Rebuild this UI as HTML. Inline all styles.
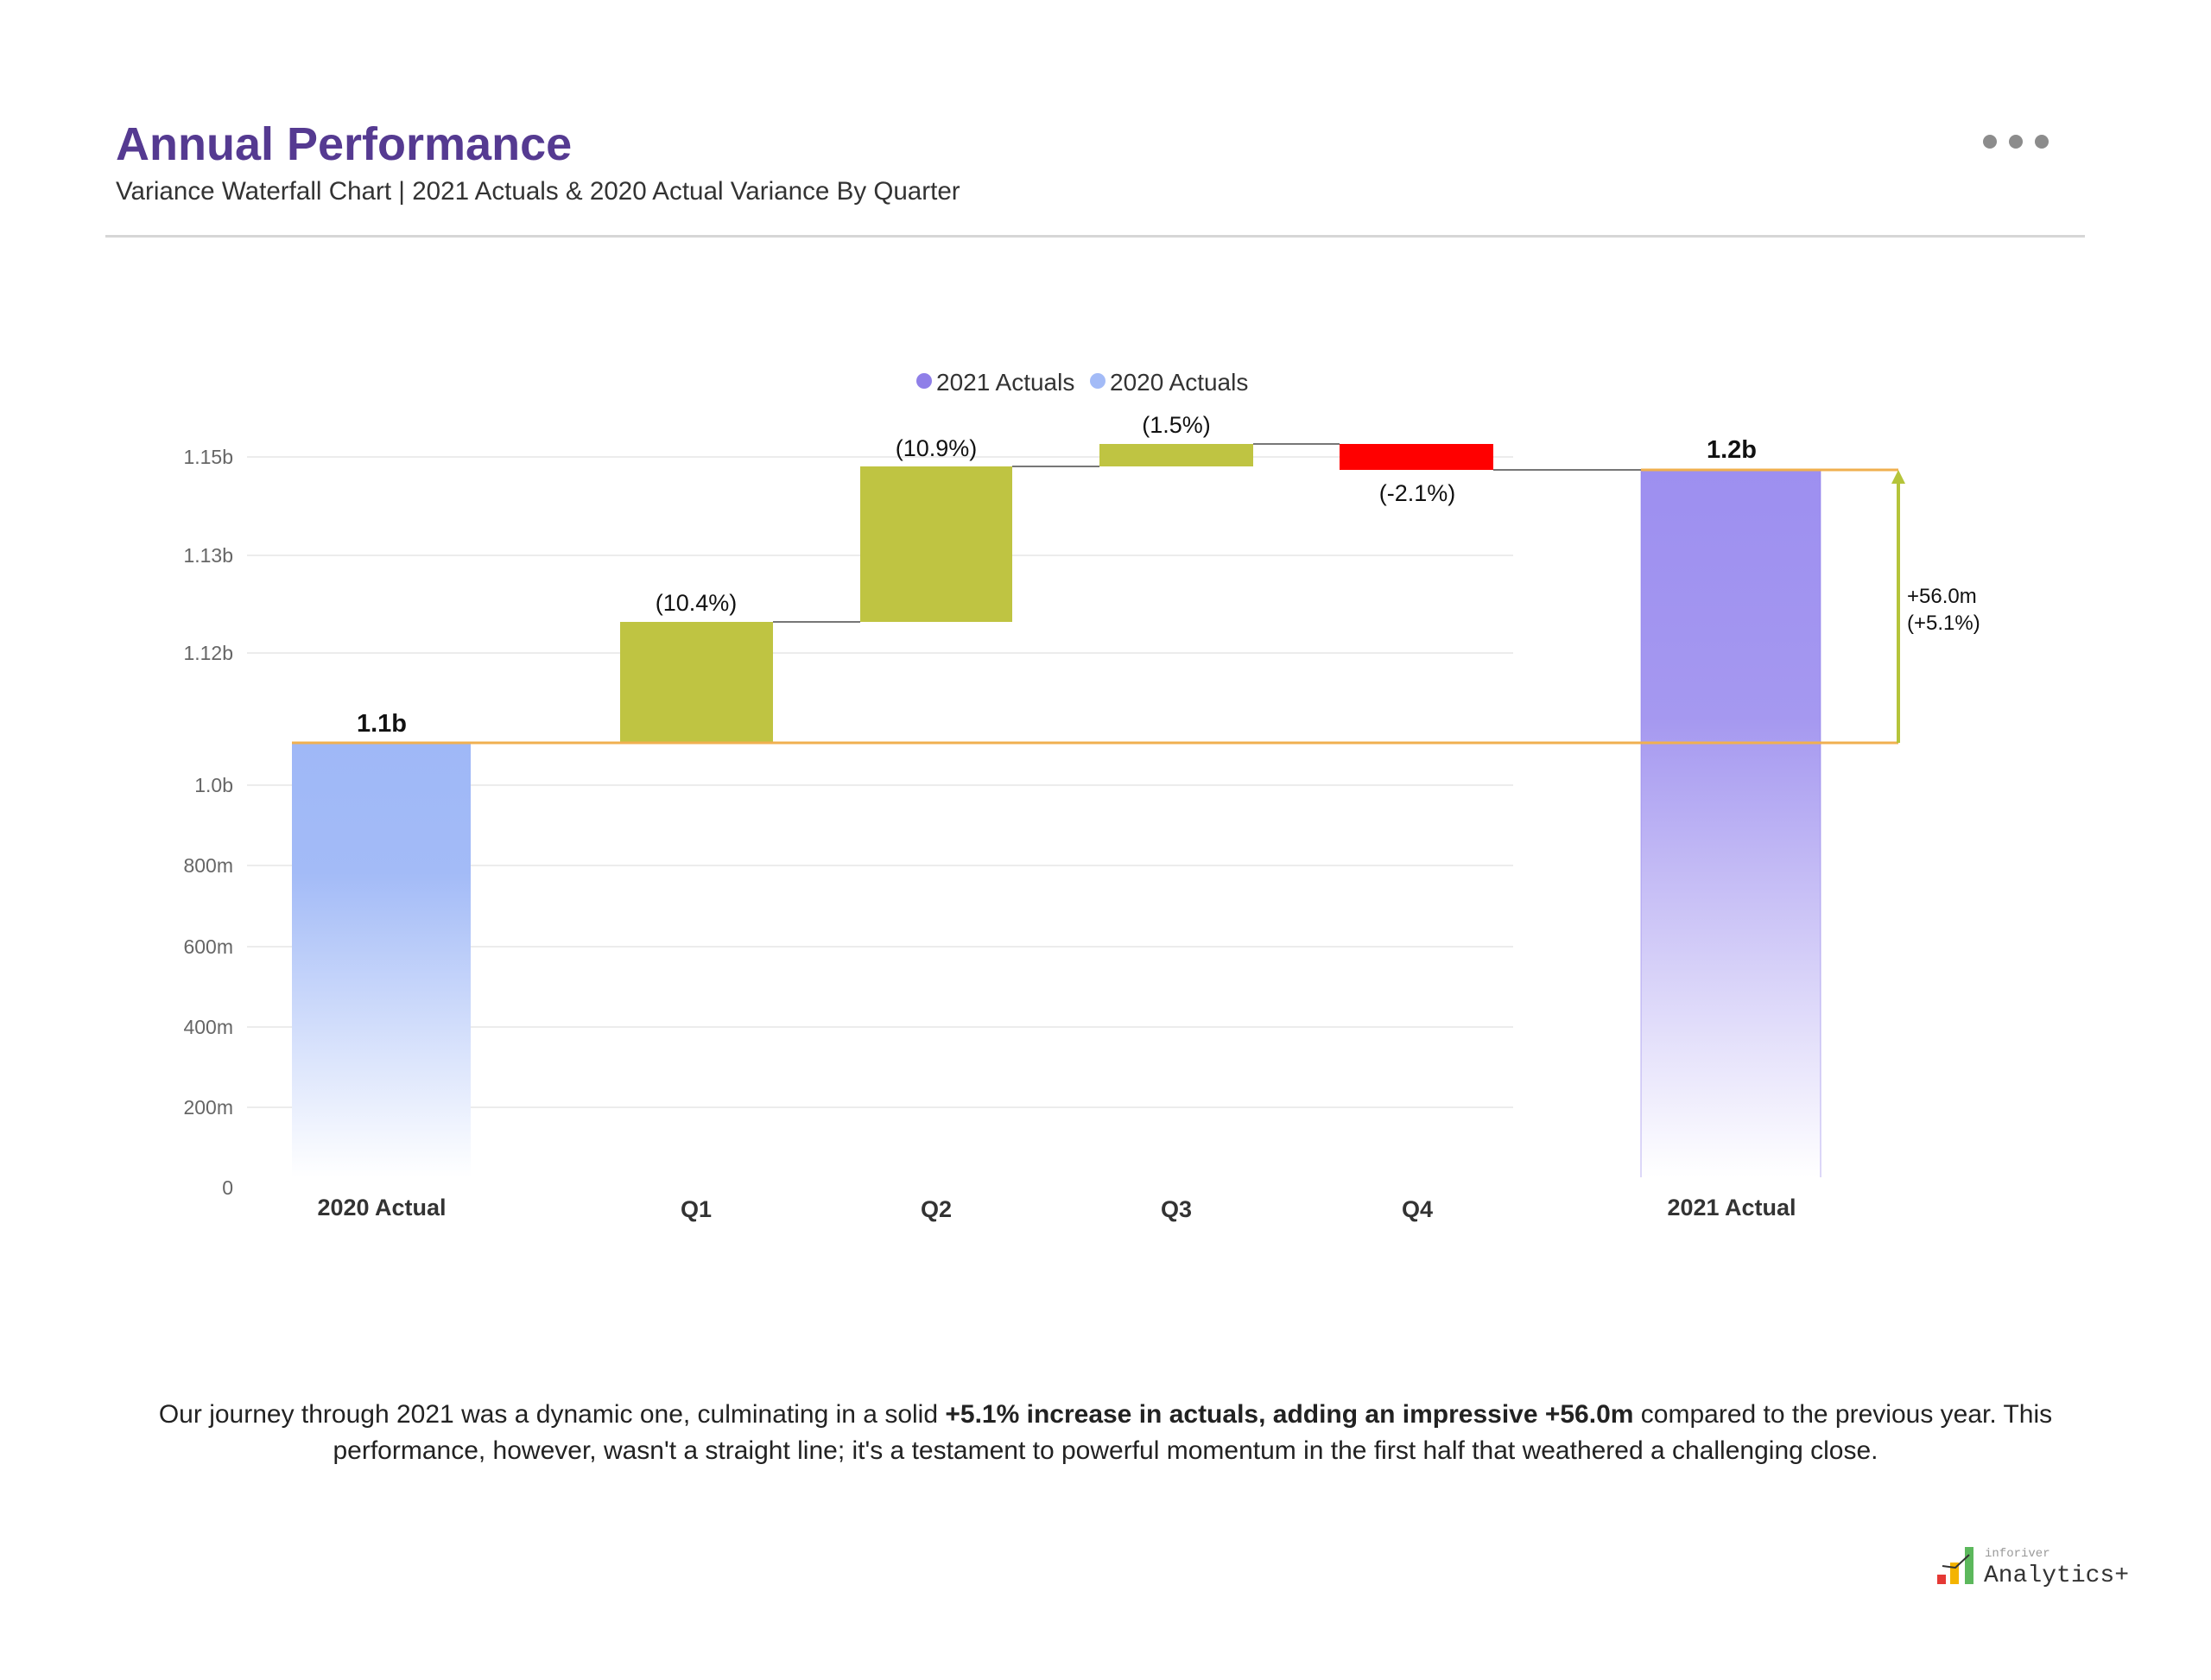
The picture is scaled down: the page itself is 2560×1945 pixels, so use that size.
<!DOCTYPE html>
<html><head><meta charset="utf-8"><style>
html,body{margin:0;padding:0;background:#fff;}
body{width:2560px;height:1945px;position:relative;overflow:hidden;font-family:"Liberation Sans",sans-serif;}
.t{position:absolute;white-space:nowrap;}
</style></head><body>
<div class="t" style="left:134px;top:136px;font-size:54px;font-weight:bold;color:#553a91;">Annual Performance</div>
<div class="t" style="left:134px;top:205px;font-size:29.6px;color:#333;">Variance Waterfall Chart | 2021 Actuals &amp; 2020 Actual Variance By Quarter</div>
<div style="position:absolute;left:122px;top:272px;width:2292px;height:3px;background:#d6d6d6;"></div>
<svg width="2560" height="1945" style="position:absolute;left:0;top:0;" font-family="Liberation Sans, sans-serif">
<defs>
<linearGradient id="gb" x1="0" y1="0" x2="0" y2="1"><stop offset="0" stop-color="#9fb8f7"/><stop offset="0.3" stop-color="#a3bbf7"/><stop offset="1" stop-color="#ffffff"/></linearGradient>
<linearGradient id="gp" x1="0" y1="0" x2="0" y2="1"><stop offset="0" stop-color="#9d8ff0"/><stop offset="0.35" stop-color="#a598f0"/><stop offset="1" stop-color="#ffffff"/></linearGradient>
</defs>
<circle cx="2304" cy="164" r="8" fill="#8c8c8c"/><circle cx="2334" cy="164" r="8" fill="#8c8c8c"/><circle cx="2364" cy="164" r="8" fill="#8c8c8c"/>
<circle cx="1070" cy="441" r="9" fill="#8f7fe8"/>
<text x="1084" y="452" font-size="28" fill="#333">2021 Actuals</text>
<circle cx="1271" cy="441" r="9" fill="#a3bbf7"/>
<text x="1285" y="452" font-size="28" fill="#333">2020 Actuals</text>
<g stroke="#ececec" stroke-width="2">
<line x1="286" y1="529" x2="1752" y2="529"/><line x1="286" y1="643" x2="1752" y2="643"/><line x1="286" y1="756" x2="1752" y2="756"/><line x1="286" y1="909" x2="1752" y2="909"/><line x1="286" y1="1002" x2="1752" y2="1002"/><line x1="286" y1="1096" x2="1752" y2="1096"/><line x1="286" y1="1189" x2="1752" y2="1189"/><line x1="286" y1="1282" x2="1752" y2="1282"/>
</g>
<g font-size="23" fill="#666" text-anchor="end">
<text x="270" y="537">1.15b</text><text x="270" y="651">1.13b</text><text x="270" y="764">1.12b</text><text x="270" y="917">1.0b</text><text x="270" y="1010">800m</text><text x="270" y="1104">600m</text><text x="270" y="1197">400m</text><text x="270" y="1290">200m</text><text x="270" y="1383">0</text>
</g>
<rect x="338" y="860" width="207" height="503" fill="url(#gb)"/>
<rect x="1900" y="544" width="208" height="819" fill="url(#gp)"/>
<line x1="1900" y1="544" x2="1900" y2="1363" stroke="#8f7fe8" stroke-width="1" opacity="0.6"/>
<line x1="2108" y1="544" x2="2108" y2="1363" stroke="#8f7fe8" stroke-width="1" opacity="0.6"/>
<rect x="718" y="720" width="177" height="140" fill="#bfc442"/>
<rect x="996" y="540" width="176" height="180" fill="#bfc442"/>
<rect x="1273" y="514" width="178" height="26" fill="#bfc442"/>
<rect x="1551" y="514" width="178" height="30" fill="#ff0000"/>
<g stroke="#777" stroke-width="2">
<line x1="895" y1="720" x2="996" y2="720"/><line x1="1172" y1="540" x2="1273" y2="540"/><line x1="1451" y1="514" x2="1551" y2="514"/><line x1="1729" y1="544" x2="1900" y2="544"/>
</g>
<g stroke="#f0b050" stroke-width="3" fill="none">
<line x1="338" y1="860" x2="2198" y2="860"/><line x1="1900" y1="544" x2="2198" y2="544"/>
</g>
<line x1="2198" y1="860" x2="2198" y2="556" stroke="#b5c43a" stroke-width="4"/>
<polygon points="2198,544 2190,560 2206,560" fill="#b5c43a"/>
<g font-size="27" fill="#111" text-anchor="middle">
<text x="806" y="707">(10.4%)</text><text x="1084" y="528">(10.9%)</text><text x="1362" y="501">(1.5%)</text><text x="1641" y="580">(-2.1%)</text>
<text x="442" y="847" font-weight="bold" font-size="29">1.1b</text><text x="2005" y="530" font-weight="bold" font-size="29">1.2b</text>
</g>
<text x="2208" y="698" font-size="24" fill="#111">+56.0m</text>
<text x="2208" y="729" font-size="24" fill="#111">(+5.1%)</text>
<g font-size="27" font-weight="bold" fill="#333" text-anchor="middle">
<text x="442" y="1407">2020 Actual</text><text x="806" y="1409">Q1</text><text x="1084" y="1409">Q2</text><text x="1362" y="1409">Q3</text><text x="1641" y="1409">Q4</text><text x="2005" y="1407">2021 Actual</text>
</g>
<g>
<rect x="2243" y="1823" width="10" height="11" fill="#e53935"/>
<rect x="2258" y="1809" width="10" height="25" fill="#f4b400"/>
<rect x="2275" y="1791" width="10" height="43" fill="#5cb85c"/>
<polyline points="2249,1813 2264,1815 2280,1800" stroke="#333" stroke-width="2" fill="none"/>
<text x="2298" y="1802" font-size="14" fill="#999" font-family="Liberation Mono, monospace">inforiver</text>
<text x="2297" y="1831" font-size="28" fill="#333" font-family="Liberation Mono, monospace">Analytics+</text>
</g>
</svg>
<div class="t" style="left:0;width:2560px;text-align:center;top:1617px;font-size:30px;color:#222;line-height:42px;">Our journey through 2021 was a dynamic one, culminating in a solid <b>+5.1% increase in actuals, adding an impressive +56.0m</b> compared to the previous year. This<br>performance, however, wasn't a straight line; it's a testament to powerful momentum in the first half that weathered a challenging close.</div>
</body></html>
